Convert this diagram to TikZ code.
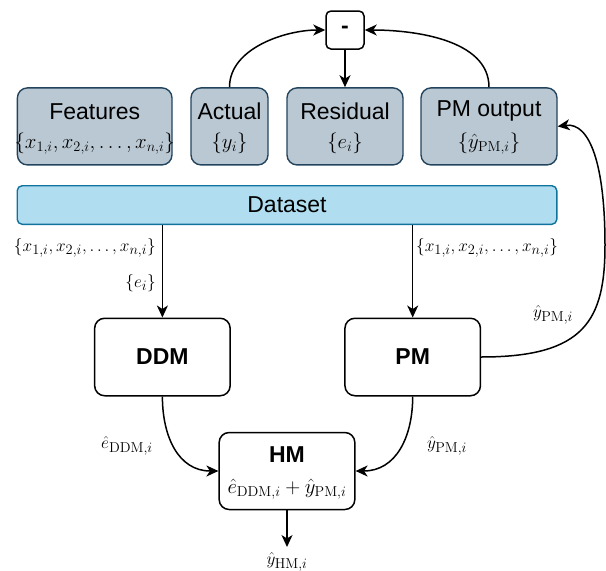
\documentclass[tikz,border=0pt]{standalone}
\usepackage[no-math]{fontspec}
\setmainfont{Liberation Sans}
\usetikzlibrary{arrows.meta,calc}

\definecolor{grayfill}{HTML}{BAC8D3}
\definecolor{graydraw}{HTML}{23445D}
\definecolor{bluefill}{HTML}{B1DDF0}
\definecolor{bluedraw}{HTML}{10739E}

\tikzset{
  x=1pt, y=-1pt,
  conn/.style={line width=1.5pt, -{Stealth[length=12pt,width=11pt,inset=3.5pt]}},
  databox/.style={draw=graydraw, fill=grayfill, line width=1.4pt, rounded corners=10pt,
    minimum height=77pt, inner sep=0pt},
  dsbox/.style={draw=bluedraw, fill=bluefill, line width=1.4pt, rounded corners=5pt,
    minimum height=38.6pt, minimum width=539.6pt, inner sep=0pt, font=\fontsize{23}{26}\selectfont},
  modelbox/.style={draw=black, fill=white, line width=1.5pt, rounded corners=10pt,
    minimum height=77.5pt, minimum width=135.5pt, inner sep=0pt},
  opbox/.style={draw=black, fill=white, line width=1.5pt, rounded corners=5pt,
    minimum size=38pt, inner sep=0pt, font=\fontsize{23}{26}\selectfont\bfseries},
  title/.style={inner sep=0pt, font=\fontsize{23}{26}\selectfont},
  bold title/.style={inner sep=0pt, font=\fontsize{23}{26}\selectfont\bfseries},
  inmath/.style={inner sep=0pt, font=\fontsize{19.5}{22}\selectfont},
  lbl/.style={inner sep=0pt, font=\fontsize{19}{22}\selectfont},
}

\begin{document}
\begin{tikzpicture}
\useasboundingbox (0,0) rectangle (606,571);

% subtraction operator
\node[opbox] (minus) at (345,30) {-};

% data columns
\node[databox, minimum width=154.6pt] (feat) at (94.7,126.4) {};
\node[databox, minimum width=77pt] (act) at (229.5,126.4) {};
\node[databox, minimum width=116pt] (res) at (345,126.4) {};
\node[databox, minimum width=136pt] (pmout) at (489,126.4) {};

\node[title] (featT) at ($(feat)+(0,-15)$) {Features};
\node[inmath] (featM) at ($(feat)+(0,17)$) {$\{x_{1,i},x_{2,i},\ldots,x_{n,i}\}$};
\node[title] (actT) at ($(act)+(0,-15)$) {Actual};
\node[inmath] (actM) at ($(act)+(0,17)$) {$\{y_i\}$};
\node[title] (resT) at ($(res)+(0,-15)$) {Residual};
\node[inmath] (resM) at ($(res)+(0,17)$) {$\{e_i\}$};
\node[title] (pmoutT) at ($(pmout)+(0,-15)$) {PM output};
\node[inmath] (pmoutM) at ($(pmout)+(0,17)$) {$\{\hat{y}_{\mathrm{PM},i}\}$};

% dataset bar
\node[dsbox] (ds) at (287,205) {Dataset};

% models
\node[modelbox] (ddm) at (162.4,357) {};
\node[bold title] (ddmT) at (ddm) {DDM};
\node[modelbox] (pm) at (412.7,357) {};
\node[bold title] (pmT) at (pm) {PM};
\node[modelbox, minimum width=135.7pt, minimum height=77pt] (hm) at (287,471) {};
\node[bold title] (hmT) at ($(hm)+(0,-16)$) {HM};
\node[inmath] (hmM) at ($(hm)+(0,18)$) {$\hat{e}_{\mathrm{DDM},i}+\hat{y}_{\mathrm{PM},i}$};

\coordinate (out) at (287,547);

% residual computation
\draw[conn] (act.north) to[out=90,in=180,looseness=0.9] (minus.west);
\draw[conn] (pmout.north) to[out=90,in=0,looseness=0.9] (minus.east);
\draw[conn] (minus.south) -- (res.north);

% dataset to models
\draw[conn] (ddm.north |- ds.south) -- (ddm.north);
\draw[conn] (pm.north |- ds.south) -- (pm.north);

% PM prediction stored back in the dataset
\draw[conn] (pm.east) .. controls (585,357) and (605,320) .. (605,245)
  .. controls (605,165) and (590,122) .. (pmout.east);

% hybrid combination
\draw[conn] (ddm.south) to[out=-90,in=180,looseness=1.1] (hm.west);
\draw[conn] (pm.south) to[out=-90,in=0,looseness=1.1] (hm.east);
\draw[conn] (hm.south) -- (out);

% connector labels
\node[lbl, anchor=east] (lx1) at (156,248) {$\{x_{1,i},x_{2,i},\ldots,x_{n,i}\}$};
\node[lbl, anchor=east] (le) at (156,283) {$\{e_i\}$};
\node[lbl, anchor=west] (lx2) at (416,248) {$\{x_{1,i},x_{2,i},\ldots,x_{n,i}\}$};
\node[lbl] (lypm) at (553,315) {$\hat{y}_{\mathrm{PM},i}$};
\node[lbl] (ledd) at (127,446) {$\hat{e}_{\mathrm{DDM},i}$};
\node[lbl] (lypm2) at (447,446) {$\hat{y}_{\mathrm{PM},i}$};
\node[lbl] (lyhm) at (287,562) {$\hat{y}_{\mathrm{HM},i}$};
\end{tikzpicture}
\end{document}
